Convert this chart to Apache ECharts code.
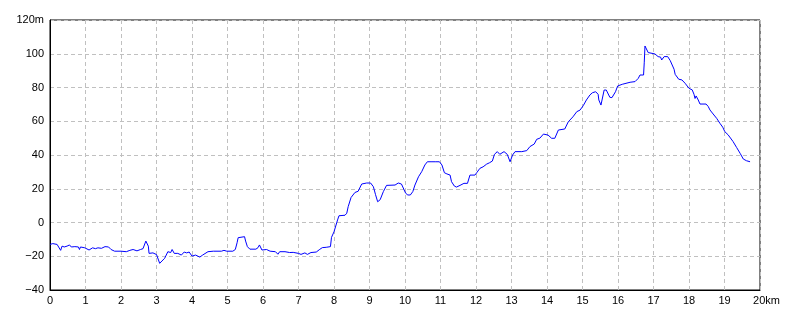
<!DOCTYPE html>
<html>
<head>
<meta charset="utf-8">
<script src="https://cdn.jsdelivr.net/npm/echarts@6/dist/echarts.min.js"></script>
<style>
html,body{margin:0;padding:0;background:#fff;}
#c{width:800px;height:320px;}
</style>
</head>
<body>
<div id="c"></div>
<script>
// distance along route (km)
const dist = [0.00,0.08,0.13,0.20,0.25,0.30,0.34,0.40,0.48,0.55,0.60,0.70,0.80,0.83,0.86,0.98,1.10,1.20,1.28,1.35,1.45,1.55,1.60,1.65,1.72,1.82,2.00,2.15,2.25,2.34,2.45,2.55,2.62,2.66,2.70,2.73,2.77,2.79,2.90,2.94,3.00,3.09,3.23,3.32,3.40,3.44,3.50,3.60,3.70,3.78,3.85,3.92,4.00,4.10,4.22,4.30,4.45,4.60,4.83,4.90,4.98,5.15,5.22,5.27,5.30,5.35,5.48,5.51,5.56,5.63,5.80,5.86,5.90,5.97,6.10,6.20,6.35,6.42,6.47,6.62,6.75,6.85,7.00,7.07,7.18,7.25,7.35,7.50,7.60,7.67,7.72,7.78,7.90,7.93,8.00,8.10,8.14,8.31,8.36,8.40,8.48,8.59,8.68,8.78,8.92,8.97,9.03,9.11,9.17,9.23,9.30,9.39,9.48,9.72,9.81,9.90,10.02,10.08,10.15,10.22,10.28,10.38,10.47,10.56,10.63,10.76,10.81,10.85,10.97,11.04,11.11,11.18,11.27,11.31,11.39,11.45,11.55,11.66,11.71,11.76,11.83,11.97,12.02,12.11,12.20,12.30,12.38,12.46,12.52,12.60,12.67,12.79,12.88,12.96,13.03,13.10,13.29,13.34,13.43,13.52,13.64,13.71,13.80,13.90,14.03,14.13,14.22,14.32,14.50,14.60,14.73,14.84,14.93,15.02,15.11,15.21,15.28,15.37,15.44,15.46,15.52,15.56,15.61,15.67,15.77,15.83,15.93,15.99,16.12,16.34,16.48,16.57,16.62,16.72,16.74,16.76,16.80,16.85,16.90,17.04,17.13,17.20,17.23,17.30,17.40,17.47,17.51,17.58,17.61,17.71,17.80,17.89,18.00,18.09,18.14,18.17,18.20,18.26,18.31,18.48,18.54,18.59,18.68,18.78,18.87,18.95,19.01,19.10,19.15,19.24,19.34,19.44,19.53,19.62,19.67,19.72];
// elevation (m)
const elev = [-13,-12.5,-12,-13,-12.5,-16.5,-14,-14.5,-14,-13.3,-14.5,-14.3,-14.5,-16,-14.5,-15,-16.3,-15,-15.5,-15,-15.3,-14.3,-15,-14.5,-16,-17,-17,-17.3,-16.5,-16,-16.8,-16,-15.5,-14.5,-11,-10,-14,-18.3,-18,-17,-19,-24.2,-21.2,-17.3,-17.8,-16,-18.3,-18.3,-19.3,-17.5,-18,-17.5,-19.9,-19.3,-20.5,-19.3,-17.3,-17,-17,-16.5,-17,-17,-16,-12,-9,-8,-8.4,-11,-14.3,-15.8,-15.8,-14.9,-13.3,-16.3,-16,-17,-17.3,-18.8,-17.3,-17.3,-17.8,-17.7,-18.3,-18.9,-18,-18.9,-17.8,-17.5,-15.9,-14.9,-15.9,-14.7,-14.3,-8.8,-5.5,1.5,4,4.3,5.5,9.4,14.8,17.8,18.5,22.8,23.4,22.8,23.4,21.2,16.5,12.3,13.5,18.3,22,22.2,23.4,22.8,17.3,16.3,16.3,18.3,22.2,27.1,30.1,34.1,36,36,35,36,36,34.1,29.5,28.8,28.1,24.2,21.6,21,22,23.2,24.2,23.2,28.1,28.1,29.5,32.1,33,34.6,35.4,36.4,40.4,42,40.4,42,40.4,36,40,42,42,41,42.6,45,46.5,49.3,50,52.4,51.8,49.9,49.9,54.8,55.4,59.7,62.6,65.7,66.6,69.2,72.6,75.6,76.9,77.5,76,72.6,69.6,69.6,78.5,78.5,74.2,74,77.5,80.9,81.9,83.1,83.5,85.4,87.4,87.4,95,104.6,103.5,100.7,100.2,99.9,98.3,98,96.3,98.3,98.3,96,95.3,90.8,87.8,84.9,84.5,82.5,79.5,78.6,76,73.5,75,72.6,70.2,70.2,68.8,66.7,64.3,61.7,58.8,56.5,53.8,52,50.9,48,44.5,41,37.6,36.6,37,36];
// axis tick labels
const xUnit = 'km';
const yUnit = 'm';

const chart = echarts.init(document.getElementById('c'), null, {renderer: 'canvas'});
const font = 'Liberation Sans, Arial, sans-serif';
const fmtNum = v => (v < 0 ? '\u2212' + Math.abs(v) : String(v));

chart.setOption({
  animation: false,
  backgroundColor: '#ffffff',
  grid: {left: 50, right: 40, top: 20, bottom: 30, show: true, borderColor: '#000', borderWidth: 1, backgroundColor: 'transparent'},
  xAxis: {
    type: 'value', min: 0, max: 20, interval: 1,
    axisLine: {show: true, onZero: false, lineStyle: {color: '#000', width: 1}},
    axisTick: {show: false},
    splitLine: {show: true, lineStyle: {color: '#c0c0c0', type: [4, 3], width: 1}},
    axisLabel: {
      color: '#000', fontFamily: font, fontSize: 11, margin: 5,
      formatter: v => v === 20 ? '{k|' + v + xUnit + '}' : fmtNum(v),
      rich: {k: {color: '#000', fontFamily: font, fontSize: 11, padding: [0, 0, 0, 13]}}
    }
  },
  yAxis: {
    type: 'value', min: -40, max: 120, interval: 20,
    axisLine: {show: true, onZero: false, lineStyle: {color: '#000', width: 1}},
    axisTick: {show: false},
    splitLine: {show: true, lineStyle: {color: '#c0c0c0', type: [4, 3], width: 1}},
    axisLabel: {
      color: '#000', fontFamily: font, fontSize: 11, margin: 6,
      formatter: v => v === 120 ? v + yUnit : fmtNum(v)
    }
  },
  series: [{
    type: 'line',
    data: dist.map((d, i) => [d, elev[i]]),
    showSymbol: false,
    symbol: 'none',
    lineStyle: {color: '#0000ff', width: 1},
    z: 3
  }]
});
</script>
</body>
</html>
